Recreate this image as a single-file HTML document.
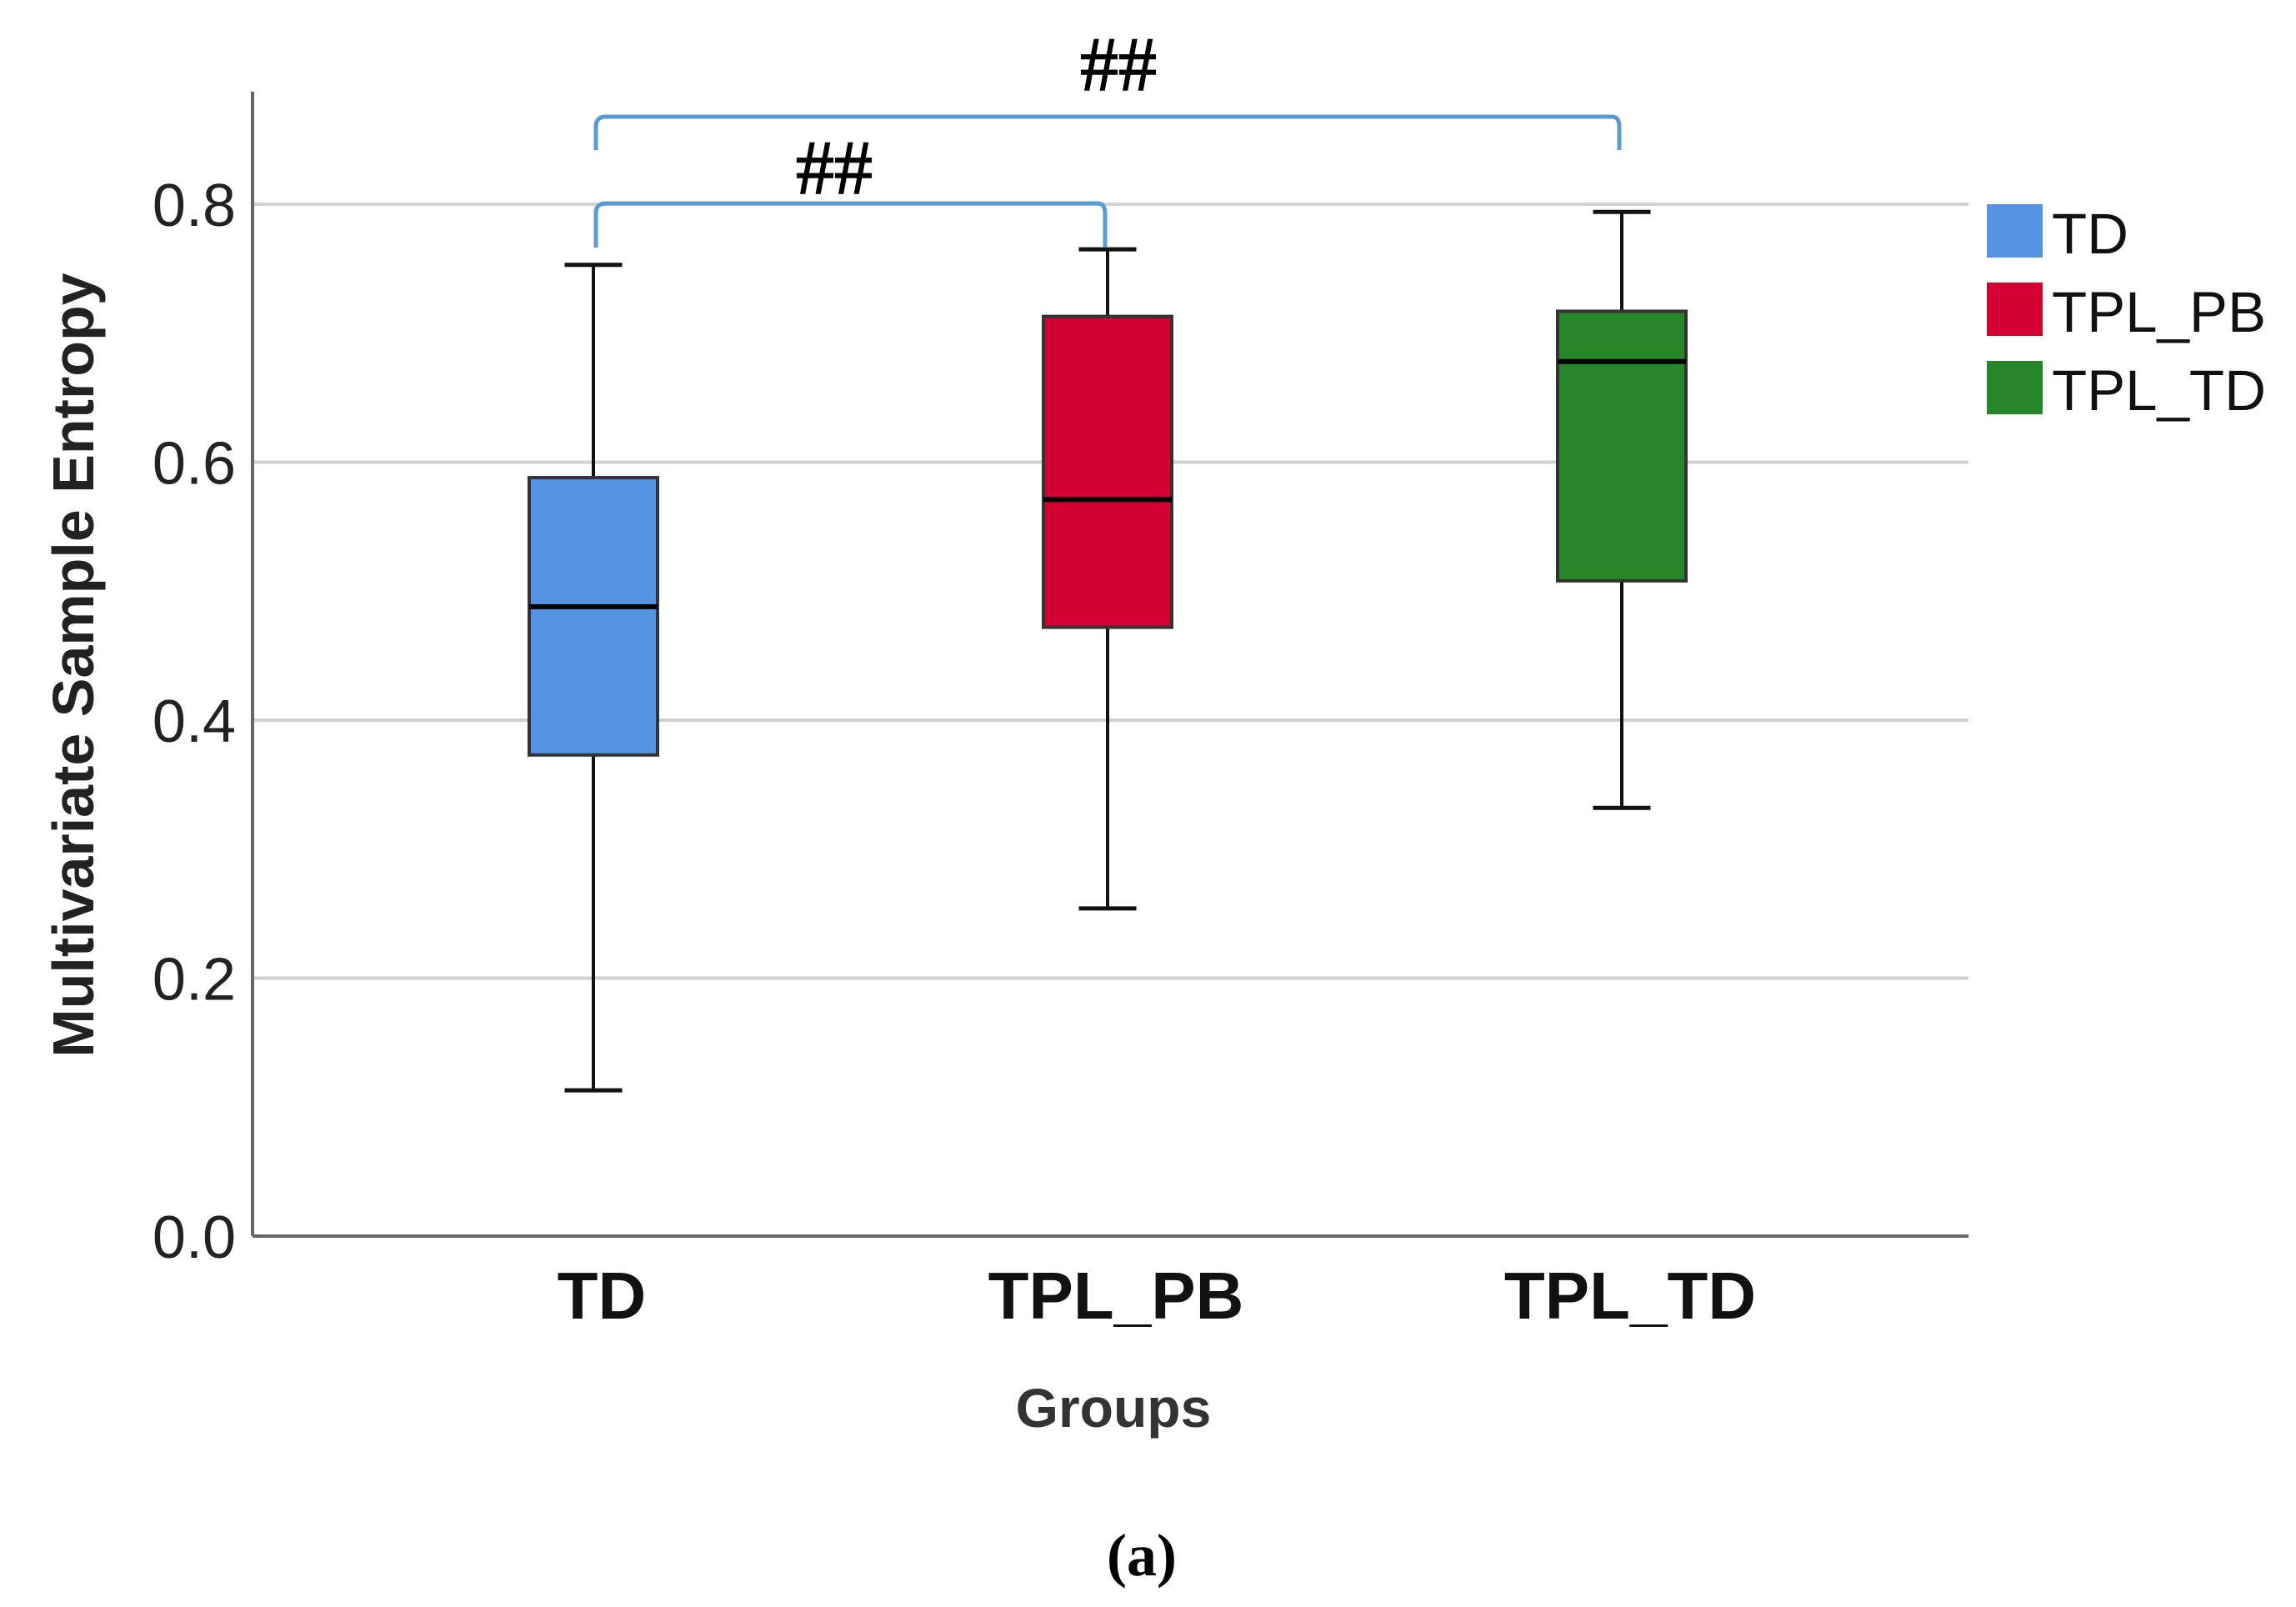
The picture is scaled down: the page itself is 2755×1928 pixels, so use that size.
<!DOCTYPE html>
<html><head><meta charset="utf-8"><style>body{margin:0;background:#fff}svg{display:block}</style></head>
<body>
<svg id="chart" width="2755" height="1928" xmlns="http://www.w3.org/2000/svg" font-family="Liberation Sans, sans-serif">
<g id="grid"></g><g id="boxes"></g><g id="axes"></g>
</svg>
<script>
const categories = ["TD","TPL_PB","TPL_TD"];
const whiskerHigh = [0.753,0.765,0.794];
const q3 = [0.588,0.713,0.717];
const medians = [0.488,0.571,0.678];
const q1 = [0.373,0.472,0.508];
const whiskerLow = [0.113,0.254,0.332];
const yTicks = [0.0,0.2,0.4,0.6,0.8];
const colors = ["#5594e2","#d40031","#28862a"];

const NS="http://www.w3.org/2000/svg";
const X0=303,X1=2362,Y0=1483,Y08=245;
const y=v=>Y0-(Y0-Y08)*v/0.8;
const xc=i=>712+i*617;
function mk(tag,attrs,parent,text){const e=document.createElementNS(NS,tag);for(const k in attrs)e.setAttribute(k,attrs[k]);if(text!==undefined)e.textContent=text;document.getElementById(parent)?document.getElementById(parent).appendChild(e):parent.appendChild(e);return e;}
const svg=document.getElementById('chart');

yTicks.forEach(t=>{
  if(t>0){const g=mk('line',{x1:X0,x2:X1,y1:y(t),y2:y(t),stroke:'#d0d0d0','stroke-width':4},'grid');
  
  }
  const l=mk('text',{x:283,y:y(t)+26,'text-anchor':'end','font-size':72,fill:'#222'},'axes',t.toFixed(1));
  
  
});
let a=mk('line',{x1:X0,x2:X0,y1:110,y2:Y0,stroke:'#666','stroke-width':4},'axes');


a=mk('line',{x1:X0,x2:X1,y1:Y0,y2:Y0,stroke:'#666','stroke-width':4},'axes');



categories.forEach((c,i)=>{
  const cx=xc(i),w=154,cap=69;
  const g=mk('g',{},'boxes');
  
  
  mk('line',{x1:cx,x2:cx,y1:y(whiskerHigh[i]),y2:y(whiskerLow[i]),stroke:'#111','stroke-width':4},g);
  mk('line',{x1:cx-cap/2,x2:cx+cap/2,y1:y(whiskerHigh[i]),y2:y(whiskerHigh[i]),stroke:'#111','stroke-width':5},g);
  mk('line',{x1:cx-cap/2,x2:cx+cap/2,y1:y(whiskerLow[i]),y2:y(whiskerLow[i]),stroke:'#111','stroke-width':5},g);
  mk('rect',{x:cx-w/2,y:y(q3[i]),width:w,height:y(q1[i])-y(q3[i]),fill:colors[i],stroke:'#333','stroke-width':4},g);
  mk('line',{x1:cx-w/2,x2:cx+w/2,y1:y(medians[i]),y2:y(medians[i]),stroke:'#000','stroke-width':6},g);
  const t=mk('text',{x:cx+10,y:1582,'text-anchor':'middle','font-size':80,'font-weight':'bold',fill:'#111'},'axes',c);
  
  
  const ly=245+i*94;
  const ls=mk('rect',{x:2384,y:ly,width:67,height:64,fill:colors[i]},'axes');
  
  
  const lt=mk('text',{x:2462,y:ly+59,'font-size':69,fill:'#111'},'axes',c);
  
  
});

function bracket(i,j,by,legB,lx,ly){
  const p=mk('path',{d:`M${xc(i)+3} ${legB} L${xc(i)+3} ${by+12} Q${xc(i)+3} ${by} ${xc(i)+15} ${by} L${xc(j)-12} ${by} Q${xc(j)-3} ${by} ${xc(j)-3} ${by+12} L${xc(j)-3} ${legB}`,fill:'none',stroke:'#5b9bd5','stroke-width':5},'axes');
  
  
  const t=mk('text',{x:lx,y:ly,'text-anchor':'middle','font-size':92,'font-family':'Liberation Serif, serif',fill:'#000',stroke:'#000','stroke-width':1.5},'axes','##');
  
  
}
bracket(0,1,244,297,1001,232);
bracket(0,2,140,180,1342,108);

let t=mk('text',{x:0,y:0,transform:'translate(112,798) rotate(-90)','text-anchor':'middle','font-size':70,'font-weight':'bold',fill:'#222'},'axes','Multivariate Sample Entropy');


t=mk('text',{x:1336,y:1712,'text-anchor':'middle','font-size':66,'font-weight':'bold',fill:'#333'},'axes','Groups');


t=mk('text',{x:1370,y:1890,'text-anchor':'middle','font-size':72,'font-weight':'bold','font-family':'Liberation Serif, serif',fill:'#000'},'axes','(a)');


</script>
</body></html>
